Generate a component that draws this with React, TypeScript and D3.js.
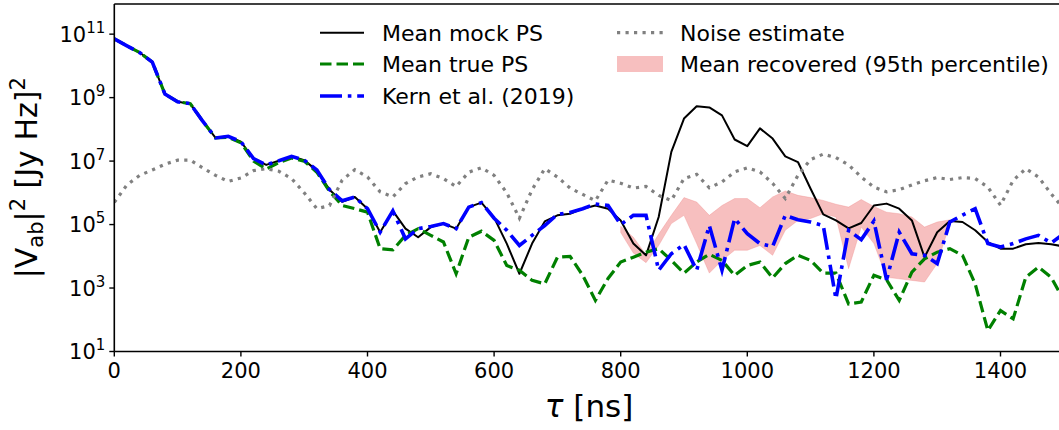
import * as d3 from "d3";

// delay grid in ns
const delays = [
  0, 20, 40, 60, 80, 100, 120, 140, 160, 180, 200, 220, 240, 260, 280, 300, 320, 340, 360, 380,
  400, 420, 440, 460, 480, 500, 520, 540, 560, 580, 600, 620, 640, 660, 680, 700, 720, 740, 760, 780,
  800, 820, 840, 860, 880, 900, 920, 940, 960, 980, 1000, 1020, 1040, 1060, 1080, 1100, 1120, 1140, 1160, 1180,
  1200, 1220, 1240, 1260, 1280, 1300, 1320, 1340, 1360, 1380, 1400, 1420, 1440, 1460, 1480, 1500,
];

// all series below are log10 of |V_ab|^2 [Jy Hz]^2
const mockPS = [
  10.85, 10.63, 10.42, 10.12, 9.11, 8.87, 8.81, 8.25, 7.73, 7.78,
  7.61, 7.08, 6.88, 7.01, 7.15, 7.03, 6.7, 6.1, 5.72, 5.87,
  5.5, 4.76, 5.43, 4.87, 4.6, 4.92, 5.03, 4.87, 5.55, 5.69,
  5.22, 4.4, 3.45, 4.4, 5.1, 5.29, 5.34, 5.5, 5.6, 5.5,
  5.13, 4.4, 4.03, 5.24, 7.29, 8.34, 8.73, 8.69, 8.44, 7.68,
  7.47, 8.03, 7.71, 7.15, 6.97, 6.13, 5.32, 5.13, 4.88, 5.05,
  5.6, 5.66, 5.5, 5.13, 3.97, 4.76, 5.11, 5.08, 4.82, 4.45,
  4.24, 4.24, 4.38, 4.42, 4.38, 4.31,
];

const truePS = [
  10.85, 10.63, 10.42, 10.12, 9.11, 8.87, 8.81, 8.25, 7.73, 7.75,
  7.58, 7.0, 6.75, 6.95, 7.1, 7.0, 6.65, 6.05, 5.6, 5.5,
  5.39, 4.24, 4.2, 4.66, 4.87, 4.66, 4.45, 3.45, 4.6, 4.79,
  4.5, 3.71, 3.56, 3.24, 3.13, 3.97, 4.0, 3.4, 2.61, 3.3,
  3.82, 3.97, 4.13, 4.24, 3.87, 3.47, 3.82, 4.06, 3.87, 3.4,
  3.71, 3.82, 3.32, 3.77, 4.03, 3.87, 3.47, 3.47, 2.5, 2.56,
  3.4, 3.26, 2.61, 3.5, 3.92, 4.13, 4.24, 4.03, 3.13, 1.66,
  2.29, 2.03, 3.34, 3.66, 3.34, 2.61,
];

const kernPS = [
  10.85, 10.63, 10.42, 10.12, 9.11, 8.87, 8.81, 8.25, 7.73, 7.78,
  7.61, 7.08, 6.88, 7.01, 7.15, 7.03, 6.72, 6.1, 5.75, 5.87,
  5.5, 4.76, 5.43, 4.55, 4.87, 4.94, 5.03, 4.87, 5.55, 5.69,
  5.2, 4.82, 4.34, 4.66, 4.97, 5.32, 5.38, 5.5, 5.65, 5.6,
  5.0, 5.29, 5.29, 3.56, 4.08, 4.37, 3.56, 4.97, 3.56, 5.19,
  4.71, 4.4, 4.31, 5.29, 5.15, 5.08, 4.97, 2.66, 4.82, 4.52,
  5.11, 3.26, 4.76, 4.08, 4.03, 3.77, 5.08, 5.3, 5.5, 4.4,
  4.29, 4.4, 4.55, 4.66, 4.42, 4.71,
];

const noise = [
  5.7, 6.25, 6.55, 6.72, 6.9, 7.03, 7.03, 6.78, 6.55, 6.36,
  6.47, 6.7, 6.76, 6.68, 6.45, 6.0, 5.5, 5.6, 6.4, 6.73,
  6.5, 6.03, 5.87, 6.29, 6.5, 6.6, 6.45, 6.2, 6.65, 6.79,
  6.55, 6.0, 5.2, 6.1, 6.76, 6.5, 6.15, 5.95, 5.75, 6.4,
  6.3, 6.15, 6.2, 5.92, 5.76, 6.45, 6.58, 6.16, 6.34, 6.66,
  6.79, 6.66, 6.3, 5.82, 6.55, 7.05, 7.22, 7.11, 6.88, 6.5,
  6.18, 6.03, 6.1, 6.25, 6.38, 6.48, 6.42, 6.48, 6.45, 6.18,
  5.61, 6.39, 6.76, 6.5, 5.97, 5.5,
];

// recovered 95th percentile band
const recDelays = [
  800, 820, 840, 860, 880, 900, 920, 940, 960, 980, 1000, 1020, 1040, 1060,
  1080, 1100, 1120, 1140, 1160, 1180, 1200, 1220, 1240, 1260, 1280, 1300, 1320,
];
const recLow = [
  4.75, 4.1, 3.8, 4.34, 5.03, 5.29, 4.4, 3.47, 3.87, 4.19, 4.19, 4.34, 4.03, 4.82,
  5.13, 5.19, 5.34, 5.24, 3.61, 4.92, 4.4, 3.34, 3.29, 3.24, 3.19, 3.77, 5.03,
];
const recHigh = [
  4.95, 4.6, 4.05, 4.7, 5.29, 5.85, 5.71, 5.29, 5.6, 5.82, 5.82, 5.53, 5.87, 6.06,
  5.92, 5.85, 5.76, 5.64, 5.55, 5.79, 5.57, 5.39, 5.34, 5.24, 4.92, 5.08, 5.15,
];

const xTicks = [0, 200, 400, 600, 800, 1000, 1200, 1400];
const yTickExps = [1, 3, 5, 7, 9, 11];

const FONT = "DejaVu Sans";

export default function App() {
  const left = 114.3, right = 1063.8, top = 4, bottom = 351.5;
  const x = d3.scaleLinear().domain([0, 1500]).range([left, right]);
  const y = d3.scaleLog().domain([10, Math.pow(10, 11.95)]).range([bottom, top]);
  const yy = (e: number) => y(Math.pow(10, e));

  const lineOf = (vals: number[]) =>
    d3.line<number>().x((_, i) => x(delays[i])).y((v) => yy(v))(vals) || "";

  const band =
    d3.area<number>()
      .x((_, i) => x(recDelays[i]))
      .y0((_, i) => yy(recLow[i]))
      .y1((v) => yy(v))(recHigh) || "";

  const legendRows = [32.7, 64, 96];

  return (
    <svg
      width={1059}
      height={430}
      style={{ position: "absolute", left: 0, top: 0, background: "#fff" }}
      fontFamily={FONT}
    >
      <defs>
        <clipPath id="plot">
          <rect x={left} y={top} width={right - left} height={bottom - top} />
        </clipPath>
      </defs>

      <g clipPath="url(#plot)">
        <path d={band} fill="lightcoral" fillOpacity={0.5} stroke="lightcoral" strokeOpacity={0.3} strokeWidth={1} />
        <path d={lineOf(mockPS)} fill="none" stroke="#000" strokeWidth={2} strokeLinejoin="round" />
        <path d={lineOf(truePS)} fill="none" stroke="#008000" strokeWidth={3.2} strokeDasharray="11.5,5" />
        <path d={lineOf(kernPS)} fill="none" stroke="#0000ff" strokeWidth={3.6} strokeDasharray="22,5.8,3.6,5.8" />
        <path d={lineOf(noise)} fill="none" stroke="#808080" strokeWidth={3.2} strokeDasharray="3.2,5.3" />
      </g>

      {/* spines */}
      <g stroke="#000" strokeWidth={1.6} fill="none">
        <line x1={left} x2={left} y1={top} y2={bottom} />
        <line x1={left} x2={right} y1={bottom} y2={bottom} />
        <line x1={left} x2={right} y1={top} y2={top} />
        <line x1={right} x2={right} y1={top} y2={bottom} />
      </g>

      {/* x ticks */}
      {xTicks.map((t) => (
        <g key={t}>
          <line x1={x(t)} x2={x(t)} y1={bottom} y2={bottom + 5} stroke="#000" strokeWidth={1.4} />
          <text x={x(t)} y={bottom + 26} fontSize={21} textAnchor="middle" fill="#000">
            {t}
          </text>
        </g>
      ))}

      {/* y ticks */}
      {yTickExps.map((e) => (
        <g key={e}>
          <line x1={left - 5} x2={left} y1={yy(e)} y2={yy(e)} stroke="#000" strokeWidth={1.4} />
          <text x={left - 9} y={yy(e) + 7.5} fontSize={21} textAnchor="end" fill="#000">
            <tspan>10</tspan>
            <tspan dy={-9} fontSize={15}>{e}</tspan>
          </text>
        </g>
      ))}

      {/* axis labels */}
      <text x={(left + right) / 2} y={417} fontSize={31} textAnchor="middle" fill="#000">
        <tspan fontStyle="italic">τ</tspan> [ns]
      </text>
      <text
        transform={`translate(37,${(top + bottom) / 2}) rotate(-90)`}
        fontSize={30}
        textAnchor="middle"
        fill="#000"
      >
        <tspan>|V</tspan>
        <tspan dy={6} fontSize={21}>ab</tspan>
        <tspan dy={-6}>|</tspan>
        <tspan dy={-12} fontSize={21}>2</tspan>
        <tspan dy={12}> [Jy Hz]</tspan>
        <tspan dy={-12} fontSize={21}>2</tspan>
      </text>

      {/* legend */}
      <g fontSize={22} fill="#000">
        <line x1={320} x2={364} y1={legendRows[0]} y2={legendRows[0]} stroke="#000" strokeWidth={2} />
        <text x={382} y={legendRows[0]} dy="0.36em">Mean mock PS</text>
        <line x1={320} x2={364} y1={legendRows[1]} y2={legendRows[1]} stroke="#008000" strokeWidth={3.2} strokeDasharray="11.5,5" />
        <text x={382} y={legendRows[1]} dy="0.36em">Mean true PS</text>
        <line x1={320} x2={364} y1={legendRows[2]} y2={legendRows[2]} stroke="#0000ff" strokeWidth={3.6} strokeDasharray="22,5.8,3.6,5.8" />
        <text x={382} y={legendRows[2]} dy="0.36em">Kern et al. (2019)</text>

        <line x1={617} x2={663} y1={legendRows[0]} y2={legendRows[0]} stroke="#808080" strokeWidth={3.2} strokeDasharray="3.2,5.3" />
        <text x={680} y={legendRows[0]} dy="0.36em">Noise estimate</text>
        <rect x={617} y={legendRows[1] - 8} width={46} height={16} fill="lightcoral" fillOpacity={0.5} />
        <text x={680} y={legendRows[1]} dy="0.36em">Mean recovered (95th percentile)</text>
      </g>
    </svg>
  );
}
